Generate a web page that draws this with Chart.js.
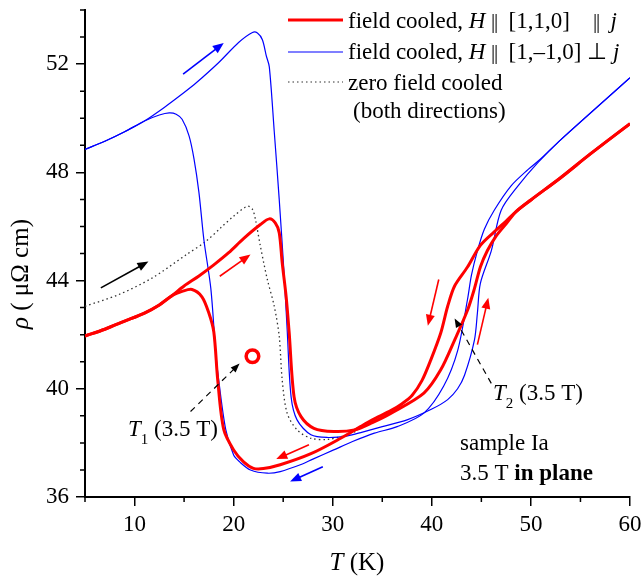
<!DOCTYPE html>
<html>
<head>
<meta charset="utf-8">
<script src="https://cdn.jsdelivr.net/npm/chart.js@4"></script>
<style>
  html, body { margin: 0; padding: 0; background: #fff; }
  #wrap { width: 642px; height: 578px; }
</style>
</head>
<body>
<div id="wrap"><canvas id="rhoChart" width="642" height="578"></canvas></div>
<script>
// Red: field cooled, H || [1,1,0] || j
const redCoolT   = [60, 56, 53, 50, 48.5, 47.5, 46.3, 44.9, 43.6, 42.3, 41.6, 40.9, 39.9, 39, 38, 37, 35.9, 34, 32.8, 30.8, 27.8, 24.7, 23, 22, 21, 20, 19, 18.4, 18, 17.5, 16.8, 15.8, 14.8, 13.8, 12.5, 11, 9, 7, 5];
const redCoolRho = [49.8, 48.68, 47.8, 46.98, 46.55, 46.2, 45.8, 45.3, 44.5, 43.8, 43.05, 42.06, 41.07, 40.3, 39.75, 39.45, 39.2, 38.85, 38.6, 38.17, 37.6, 37.19, 37.05, 37.06, 37.3, 37.74, 38.5, 40.3, 42.1, 42.8, 43.4, 43.67, 43.6, 43.45, 43.1, 42.8, 42.5, 42.2, 41.95];
const redWarmT   = [5, 7, 9, 11, 12.5, 13.8, 15, 16.5, 18, 19.5, 21, 22.7, 23.6, 24.2, 24.6, 24.9, 25.3, 25.6, 26.1, 26.8, 28.1, 30.1, 32.2, 34, 35.9, 39.2, 40.9, 42.3, 43.6, 44.3, 44.9, 45.6, 46.5, 47.5, 48.5, 50, 53, 56, 60];
const redWarmRho = [41.95, 42.2, 42.5, 42.8, 43.1, 43.45, 43.8, 44.17, 44.58, 45.03, 45.55, 46.07, 46.28, 46.13, 45.77, 44.66, 43.4, 42.1, 39.7, 38.97, 38.54, 38.42, 38.48, 38.75, 39.1, 39.84, 40.7, 41.8, 42.9, 43.7, 44.5, 45.1, 45.65, 46.1, 46.55, 46.98, 47.8, 48.68, 49.8];

// Blue: field cooled, H || [1,-1,0] perp j
const blueCoolT   = [60, 56.5, 53, 51, 49.7, 48, 46.3, 45.3, 44.6, 44, 43.6, 42.6, 41.2, 39.2, 36.5, 34.2, 32, 30.1, 28, 26.8, 24.7, 23.4, 21.7, 20.6, 20, 19.2, 18.5, 18.2, 17.7, 17, 16.5, 16, 15.5, 14.8, 14.2, 13.5, 12.5, 11, 9, 7, 5];
const blueCoolRho = [51.5, 50.35, 49.2, 48.5, 48.1, 47.5, 46.6, 45.9, 45.1, 44.2, 43.3, 41.4, 40.1, 39.1, 38.6, 38.36, 38.05, 37.74, 37.4, 37.2, 36.94, 36.88, 37.0, 37.3, 37.55, 38.5, 40.3, 41.3, 43.7, 45.5, 47.25, 48.5, 49.35, 49.96, 50.15, 50.2, 50.12, 49.9, 49.5, 49.15, 48.85];
const blueWarmT   = [5, 7, 9, 11, 13, 15, 16.2, 18.5, 20.5, 21.9, 22.4, 22.9, 23.3, 23.6, 24.1, 24.6, 25.1, 25.4, 25.8, 26.4, 27.8, 29.5, 31.5, 33, 35, 37.5, 40, 41.6, 42.6, 43.3, 44.3, 44.6, 44.9, 46, 47, 48.7, 50.7, 53, 60];
const blueWarmRho = [48.85, 49.15, 49.5, 49.9, 50.4, 50.95, 51.3, 52.06, 52.8, 53.17, 53.15, 52.9, 52.3, 51.9, 49.5, 47.0, 44.2, 42.2, 39.7, 38.85, 38.3, 38.2, 38.26, 38.4, 38.6, 38.85, 39.25, 39.6, 40.0, 40.5, 41.8, 42.8, 43.9, 45.1, 46.6, 47.5, 48.36, 49.2, 51.5];

// Black dotted: zero field cooled (both directions)
const zfcT   = [5, 8.4, 11.8, 15.2, 17.2, 18.7, 20, 21.4, 21.9, 22.2, 22.7, 23.4, 24.1, 24.6, 24.9, 25.4, 26.4, 27.8, 29.5, 31.1, 32.5];
const zfcRho = [43.05, 43.48, 44.1, 44.95, 45.45, 45.95, 46.38, 46.75, 46.63, 46.26, 45.27, 44.04, 43.05, 41.94, 40.33, 39.1, 38.48, 38.17, 38.13, 38.26, 38.45];

const xTicks = [10, 20, 30, 40, 50, 60];
const yTicks = [36, 40, 44, 48, 52];
const xMinor = [5, 15, 25, 35, 45, 55];
const yMinor = [37, 38, 39, 41, 42, 43, 45, 46, 47, 49, 50, 51, 53, 54];

// sweep arrows: [T start, rho start, T end, rho end, colour]
const arrows = [
  [14.9, 51.63, 19.0, 52.78, '#0000ff'],
  [6.6, 43.73, 11.4, 44.7, '#000000'],
  [18.6, 44.16, 21.7, 44.96, '#ff0000'],
  [27.6, 37.93, 24.3, 37.4, '#ff0000'],
  [29.0, 37.12, 25.7, 36.57, '#0000ff'],
  [40.7, 44.04, 39.6, 42.33, '#ff0000'],
  [44.6, 41.63, 45.7, 43.36, '#ff0000']
];
// dashed pointers to T1 and T2
const pointers = [
  [15.65, 39.16, 20.6, 40.93],
  [46.0, 40.2, 42.3, 42.6]
];
const t1Marker = [21.9, 41.2];

const serif = '"Liberation Serif", "Times New Roman", serif';

function pts(t, r) {
    return t.map((v, i) => ({ x: v, y: r[i] }));
}

function font(style, size) {
    return style + ' ' + size + 'px ' + serif;
}

// draw a row of differently styled pieces: [text, style, size, dy, advance]
function drawRuns(ctx, x, y, parts) {
    let cx = x;
    parts.forEach(p => {
        ctx.font = font(p[1], p[2]);
        ctx.fillText(p[0], cx, y + (p[3] || 0));
        cx += p[4] !== undefined ? p[4] : ctx.measureText(p[0]).width;
    });
    return cx;
}

function runsWidth(ctx, parts) {
    let w = 0;
    parts.forEach(p => {
        ctx.font = font(p[1], p[2]);
        w += p[4] !== undefined ? p[4] : ctx.measureText(p[0]).width;
    });
    return w;
}

function arrowHead(ctx, x1, y1, x2, y2, len, half) {
    const a = Math.atan2(y2 - y1, x2 - x1);
    ctx.beginPath();
    ctx.moveTo(x2, y2);
    ctx.lineTo(x2 - len * Math.cos(a) + half * Math.sin(a), y2 - len * Math.sin(a) - half * Math.cos(a));
    ctx.lineTo(x2 - len * Math.cos(a) - half * Math.sin(a), y2 - len * Math.sin(a) + half * Math.cos(a));
    ctx.closePath();
    ctx.fill();
}

// keep the plot box where the original has it
function noPad(s) {
    s.paddingTop = 0;
    s.paddingBottom = 0;
    s.paddingLeft = 0;
    s.paddingRight = 0;
}

const bar = ['|', 'normal', 21, 0, 3];   // one stroke of a tight double bar

const overlay = {
    id: 'overlay',
    afterDraw(chart) {
        const ctx = chart.ctx;
        const xs = chart.scales.x, ys = chart.scales.y;
        const area = chart.chartArea;
        ctx.save();

        // minor ticks
        ctx.strokeStyle = '#000';
        ctx.lineWidth = 1.5;
        ctx.beginPath();
        xMinor.forEach(v => {
            const px = xs.getPixelForValue(v);
            ctx.moveTo(px, area.bottom);
            ctx.lineTo(px, area.bottom + 5);
        });
        yMinor.forEach(v => {
            const py = ys.getPixelForValue(v);
            ctx.moveTo(area.left, py);
            ctx.lineTo(area.left - 5, py);
        });
        ctx.stroke();

        // sweep arrows
        arrows.forEach(a => {
            const x1 = xs.getPixelForValue(a[0]), y1 = ys.getPixelForValue(a[1]);
            const x2 = xs.getPixelForValue(a[2]), y2 = ys.getPixelForValue(a[3]);
            const ang = Math.atan2(y2 - y1, x2 - x1);
            ctx.strokeStyle = a[4];
            ctx.fillStyle = a[4];
            ctx.lineWidth = 1.6;
            ctx.beginPath();
            ctx.moveTo(x1, y1);
            ctx.lineTo(x2 - 8 * Math.cos(ang), y2 - 8 * Math.sin(ang));
            ctx.stroke();
            arrowHead(ctx, x1, y1, x2, y2, 11, 4.5);
        });

        // dashed pointers
        ctx.strokeStyle = '#000';
        ctx.fillStyle = '#000';
        ctx.lineWidth = 1.2;
        pointers.forEach(p => {
            const x1 = xs.getPixelForValue(p[0]), y1 = ys.getPixelForValue(p[1]);
            const x2 = xs.getPixelForValue(p[2]), y2 = ys.getPixelForValue(p[3]);
            const ang = Math.atan2(y2 - y1, x2 - x1);
            ctx.setLineDash([6, 5]);
            ctx.beginPath();
            ctx.moveTo(x1, y1);
            ctx.lineTo(x2 - 7 * Math.cos(ang), y2 - 7 * Math.sin(ang));
            ctx.stroke();
            ctx.setLineDash([]);
            arrowHead(ctx, x1, y1, x2, y2, 9, 3.5);
        });

        // open circle at T1
        ctx.strokeStyle = '#ff0000';
        ctx.lineWidth = 3.5;
        ctx.beginPath();
        ctx.arc(xs.getPixelForValue(t1Marker[0]), ys.getPixelForValue(t1Marker[1]), 6.3, 0, Math.PI * 2);
        ctx.stroke();

        // texts
        ctx.fillStyle = '#000';
        ctx.textBaseline = 'alphabetic';
        ctx.textAlign = 'left';
        drawRuns(ctx, 128, 436, [['T', 'italic', 23], ['1', 'normal', 15, 8], [' (3.5 T)', 'normal', 23]]);
        drawRuns(ctx, 493, 400, [['T', 'italic', 23], ['2', 'normal', 15, 8], [' (3.5 T)', 'normal', 23]]);
        drawRuns(ctx, 460, 450, [['sample Ia', 'normal', 23]]);
        drawRuns(ctx, 460, 480, [['3.5 T ', 'normal', 23], ['in plane', 'bold', 23]]);

        // legend
        ctx.lineWidth = 3;
        ctx.strokeStyle = '#ff0000';
        ctx.beginPath(); ctx.moveTo(288, 20); ctx.lineTo(343, 20); ctx.stroke();
        ctx.lineWidth = 1.2;
        ctx.strokeStyle = '#0000ff';
        ctx.beginPath(); ctx.moveTo(288, 52); ctx.lineTo(343, 52); ctx.stroke();
        ctx.strokeStyle = '#333';
        ctx.setLineDash([1.5, 3]);
        ctx.beginPath(); ctx.moveTo(288, 82); ctx.lineTo(343, 82); ctx.stroke();
        ctx.setLineDash([]);
        drawRuns(ctx, 348, 28, [['field cooled, ', 'normal', 23], ['H', 'italic', 23], [' ', 'normal', 23], bar, bar, ['  [1,1,0]    ', 'normal', 23], bar, bar, ['  ', 'normal', 23], ['j', 'italic', 23]]);
        drawRuns(ctx, 348, 59, [['field cooled, ', 'normal', 23], ['H', 'italic', 23], [' ', 'normal', 23], bar, bar, ['  [1,\u20131,0] \u22A5 ', 'normal', 23], ['j', 'italic', 23]]);
        drawRuns(ctx, 348, 90, [['zero field cooled', 'normal', 23]]);
        drawRuns(ctx, 353, 118, [['(both directions)', 'normal', 23]]);

        // axis titles
        const xt = [['T', 'italic', 25], [' (K)', 'normal', 25]];
        drawRuns(ctx, 357 - runsWidth(ctx, xt) / 2, 570, xt);
        const yt = [['\u03C1', 'italic', 25], [' ( \u03BC\u03A9 cm)', 'normal', 25]];
        ctx.translate(28, 274);
        ctx.rotate(-Math.PI / 2);
        drawRuns(ctx, -runsWidth(ctx, yt) / 2, 0, yt);
        ctx.restore();
    }
};

const ctx = document.getElementById('rhoChart').getContext('2d');
new Chart(ctx, {
    type: 'scatter',
    data: {
        datasets: [
            { label: 'FC red cooling', data: pts(redCoolT, redCoolRho), borderColor: '#ff0000', borderWidth: 3, order: 0 },
            { label: 'FC red warming', data: pts(redWarmT, redWarmRho), borderColor: '#ff0000', borderWidth: 3, order: 0 },
            { label: 'FC blue cooling', data: pts(blueCoolT, blueCoolRho), borderColor: '#0000ff', borderWidth: 1.2, order: 1 },
            { label: 'FC blue warming', data: pts(blueWarmT, blueWarmRho), borderColor: '#0000ff', borderWidth: 1.2, order: 1 },
            { label: 'ZFC', data: pts(zfcT, zfcRho), borderColor: '#333333', borderWidth: 1.3, borderDash: [1.5, 3], order: 2 }
        ].map(d => Object.assign(d, { showLine: true, pointRadius: 0, tension: 0.3, fill: false }))
    },
    options: {
        responsive: false,
        animation: false,
        layout: { padding: { top: 10, right: 12, left: 0, bottom: 0 } },
        plugins: { legend: { display: false }, tooltip: { enabled: false } },
        scales: {
            x: {
                type: 'linear', min: 5, max: 60,
                afterBuildTicks: s => { s.ticks = xTicks.map(v => ({ value: v })); },
                afterFit: s => { s.height = 81; noPad(s); },
                grid: { drawOnChartArea: false, drawTicks: true, tickLength: 9, color: '#000', lineWidth: 1.5 },
                border: { color: '#000', width: 2 },
                ticks: { font: { family: serif, size: 23 }, color: '#000', padding: 5, maxRotation: 0 }
            },
            y: {
                type: 'linear', min: 36, max: 54,
                afterBuildTicks: s => { s.ticks = yTicks.map(v => ({ value: v })); },
                afterFit: s => { s.width = 85; noPad(s); },
                grid: { drawOnChartArea: false, drawTicks: true, tickLength: 9, color: '#000', lineWidth: 1.5 },
                border: { color: '#000', width: 2 },
                ticks: { font: { family: serif, size: 23 }, color: '#000', padding: 7 }
            }
        }
    },
    plugins: [overlay]
});
</script>
</body>
</html>
